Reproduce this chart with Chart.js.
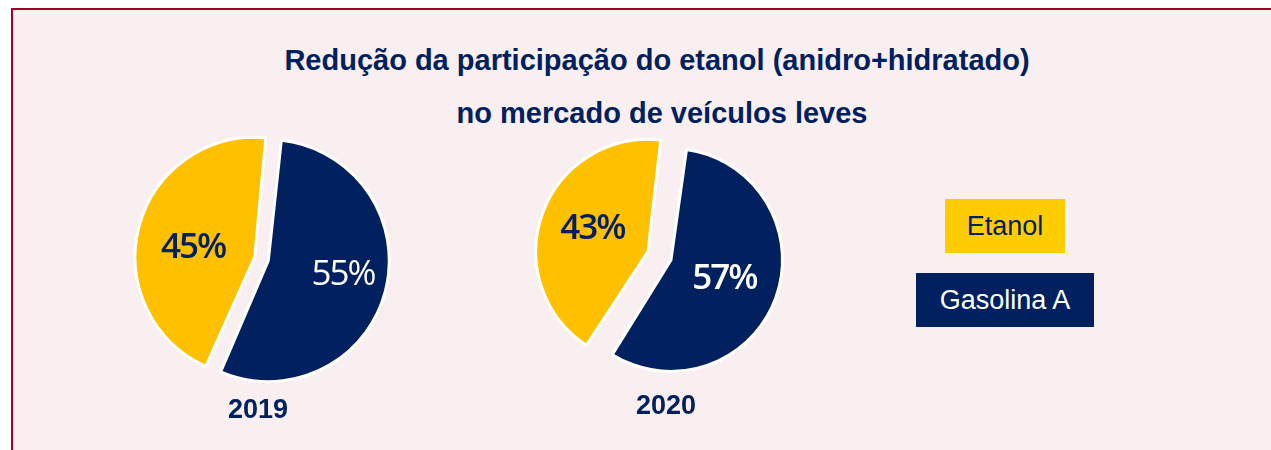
<!DOCTYPE html>
<html>
<head>
<meta charset="utf-8">
<script src="https://cdn.jsdelivr.net/npm/chart.js@4.4.1/dist/chart.umd.min.js"></script>
<style>
  html, body { margin: 0; padding: 0; background: #fff; }
  body { width: 1271px; height: 450px; overflow: hidden; position: relative; font-family: "Liberation Sans", Arial, sans-serif; }
  #frame { position: absolute; left: 11px; top: 8px; width: 1300px; height: 500px; border: 2px solid #a50021; background: #f9eef0; box-sizing: border-box; }
  .t { position: absolute; width: 1000px; text-align: center; font-weight: bold; color: #002060; font-size: 29px; line-height: 29px; white-space: nowrap; }
  .year { position: absolute; width: 200px; text-align: center; font-weight: bold; color: #002060; font-size: 27px; line-height: 27px; }
  .key { position: absolute; height: 54px; display: flex; align-items: center; justify-content: center; font-size: 27px; }
  canvas { position: absolute; }
</style>
</head>
<body>
<div id="frame"></div>
<div class="t" style="left:157px; top:46px;">Redução da participação do etanol (anidro+hidratado)</div>
<div class="t" style="left:162px; top:99px;">no mercado de veículos leves</div>

<canvas id="pie2019" width="300" height="300" style="left:112px; top:109px;"></canvas>
<canvas id="pie2020" width="300" height="300" style="left:513px; top:107px;"></canvas>

<div class="year" id="y2019" style="left:158px; top:396px;"></div>
<div class="year" id="y2020" style="left:566px; top:392px;"></div>

<div class="key" id="k0" style="left:945px; top:199px; width:120px; background:#ffcc00; color:#002060;"></div>
<div class="key" id="k1" style="left:916px; top:273px; width:178px; background:#002060; color:#fff;"></div>

<script>
// data
const categories = ['Etanol', 'Gasolina A'];
const years = ['2019', '2020'];
const share2019 = [45, 55];
const share2020 = [43, 57];

const yellow = '#ffc000';
const navy = '#002060';

document.getElementById('y2019').textContent = years[0];
document.getElementById('y2020').textContent = years[1];
document.getElementById('k0').textContent = categories[0];
document.getElementById('k1').textContent = categories[1];

// percent labels inside slices
const pctLabels = {
  id: 'pctLabels',
  afterDatasetsDraw(chart, args, opts) {
    const ctx = chart.ctx;
    const arcs = chart.getDatasetMeta(0).data;
    const values = chart.data.datasets[0].data;
    arcs.forEach((arc, i) => {
      const p = opts.pos[i];
      const a = (arc.startAngle + arc.endAngle) / 2 + p.shift * Math.PI / 180;
      const r = p.f * arc.outerRadius;
      const x = arc.x + Math.cos(a) * r;
      const y = arc.y + Math.sin(a) * r;
      ctx.save();
      ctx.font = p.weight + ' 35px "Open Sans", sans-serif';
      ctx.letterSpacing = '-2px';
      ctx.fillStyle = p.color;
      ctx.textAlign = 'center';
      ctx.textBaseline = 'alphabetic';
      ctx.fillText(values[i] + '%', x, y + 12.5);
      ctx.restore();
    });
  }
};

function makePie(id, values, rotation, radius, offsets, pos) {
  return new Chart(document.getElementById(id), {
    type: 'pie',
    data: {
      labels: categories,
      datasets: [{
        data: values,
        backgroundColor: [yellow, navy],
        borderColor: '#ffffff',
        borderWidth: 3,
        offset: offsets
      }]
    },
    options: {
      responsive: false,
      animation: false,
      events: [],
      rotation: rotation,
      radius: radius,
      layout: { padding: 0 },
      plugins: {
        legend: { display: false },
        tooltip: { enabled: false },
        pctLabels: { pos: pos }
      }
    },
    plugins: [pctLabels]
  });
}

makePie('pie2019', share2019, -156.3, 114.5, [30, 26], [
  { f: 0.612, shift: -3.9, color: navy, weight: 600 },
  { f: 0.717, shift: -5.2, color: '#ffffff', weight: 400 }
]);

makePie('pie2020', share2020, -147.5, 103, [64, 34], [
  { f: 0.748, shift: 3.5, color: navy, weight: 600 },
  { f: 0.624, shift: -2.3, color: '#ffffff', weight: 600 }
]);
</script>
</body>
</html>
